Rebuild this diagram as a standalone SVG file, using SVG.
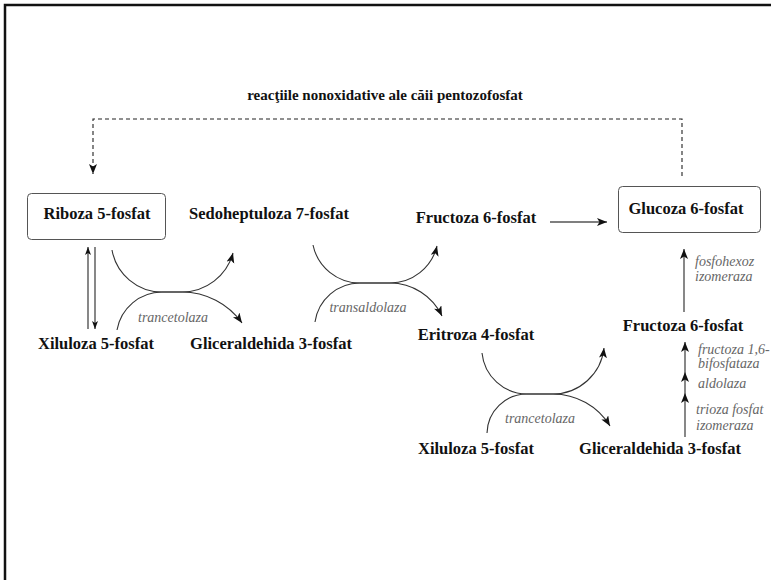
<svg xmlns="http://www.w3.org/2000/svg" width="771" height="580" viewBox="0 0 771 580">
  <style>
    .bg { fill: #ffffff; }
    .frame { stroke: #111; stroke-width: 2.5; fill: none; }
    .box { fill: #ffffff; stroke: #555; stroke-width: 1; }
    .name { font-family: "Liberation Serif", "Times New Roman", serif; font-weight: bold; font-size: 16.5px; fill: #111; text-anchor: middle; }
    .title { font-family: "Liberation Serif", "Times New Roman", serif; font-weight: bold; font-size: 15px; fill: #111; text-anchor: middle; }
    .enz { font-family: "Liberation Serif", "Times New Roman", serif; font-style: italic; font-size: 14px; fill: #666; }
    .enz-c { text-anchor: middle; }
    .curve { fill: none; stroke: #333; stroke-width: 1.1; }
    .vline { fill: none; stroke: #555; stroke-width: 1.4; }
    .dash { fill: none; stroke: #222; stroke-width: 1.1; stroke-dasharray: 4 3; }
  </style>
  <defs>
    <marker id="head" markerUnits="userSpaceOnUse" markerWidth="12" markerHeight="10" refX="10" refY="4" orient="auto">
      <path d="M0,0 L10,4 L0,8 L2.5,4 z" fill="#111"/>
    </marker>
    <marker id="head-s" markerUnits="userSpaceOnUse" markerWidth="10" markerHeight="8" refX="8" refY="3" orient="auto">
      <path d="M0,0 L8,3 L0,6 L2,3 z" fill="#111"/>
    </marker>
  </defs>

  <rect class="bg" x="0" y="0" width="771" height="580"/>
  <!-- frame: top and left edges only -->
  <path class="frame" d="M5,580 L5,5 L771,5"/>

  <text class="title" x="385" y="100">reacţiile nonoxidative ale căii pentozofosfat</text>

  <g id="connectors">
    <!-- return path from glucose back to ribose -->
    <path class="dash" d="M682,176 L682,119 L93,119 L93,174" marker-end="url(#head)"/>
    <!-- ribose / xylulose equilibrium -->
    <path class="vline" d="M88,329 L88,247" marker-end="url(#head-s)"/>
    <path class="vline" d="M95,247 L95,329" marker-end="url(#head-s)"/>
    <!-- transketolase (first): two tangent arcs -->
    <path class="curve" d="M112,250 A51,51 0 0 0 162,292 L182,292 A53,53 0 0 0 233,253" marker-end="url(#head)"/>
    <path class="curve" d="M117,330 A46,46 0 0 1 162,292 L182,292 A74,74 0 0 1 242,323" marker-end="url(#head)"/>
    <!-- transaldolase -->
    <path class="curve" d="M313,245 A48,48 0 0 0 360,283 L390,283 A48.5,48.5 0 0 0 437,246" marker-end="url(#head)"/>
    <path class="curve" d="M315,322 A45.5,45.5 0 0 1 360,283 L390,283 A57.5,57.5 0 0 1 442,316" marker-end="url(#head)"/>
    <!-- transketolase (second) -->
    <path class="curve" d="M482,353 A45.5,45.5 0 0 0 527,394 L553,394 A51.5,51.5 0 0 0 604,348" marker-end="url(#head)"/>
    <path class="curve" d="M487,433 A40,40 0 0 1 527,394 L553,394 A67,67 0 0 1 610,426" marker-end="url(#head)"/>
    <!-- fructose 6-P to glucose 6-P -->
    <path class="vline" d="M550,222 L607,222" marker-end="url(#head)"/>
    <!-- phosphohexose isomerase -->
    <path class="vline" d="M684,312 L684,249" marker-end="url(#head)"/>
    <!-- triose phosphate isomerase / aldolase / fructose 1,6-bisphosphatase -->
    <path class="vline" d="M685,437 L685,393" marker-end="url(#head)"/>
    <path class="vline" d="M685,393 L685,372" marker-end="url(#head)"/>
    <path class="vline" d="M685,372 L685,342" marker-end="url(#head)"/>
  </g>

  <g id="riboza5p">
    <rect class="box" x="27.5" y="193.5" width="138" height="46" rx="4"/>
    <text class="name" x="97" y="219">Riboza 5-fosfat</text>
  </g>
  <g id="sedoheptuloza7p">
    <text class="name" x="269" y="219">Sedoheptuloza 7-fosfat</text>
  </g>
  <g id="fructoza6p-top">
    <text class="name" x="476" y="223">Fructoza 6-fosfat</text>
  </g>
  <g id="glucoza6p">
    <rect class="box" x="618.5" y="186.5" width="142" height="46" rx="4"/>
    <text class="name" x="686" y="214">Glucoza 6-fosfat</text>
  </g>
  <g id="xiluloza5p-left">
    <text class="name" x="96" y="349">Xiluloza 5-fosfat</text>
  </g>
  <g id="gliceraldehida3p-left">
    <text class="name" x="271" y="349">Gliceraldehida 3-fosfat</text>
  </g>
  <g id="eritroza4p">
    <text class="name" x="476" y="340">Eritroza 4-fosfat</text>
  </g>
  <g id="fructoza6p-right">
    <text class="name" x="683" y="331">Fructoza 6-fosfat</text>
  </g>
  <g id="xiluloza5p-bottom">
    <text class="name" x="476" y="454">Xiluloza 5-fosfat</text>
  </g>
  <g id="gliceraldehida3p-bottom">
    <text class="name" x="660" y="454">Gliceraldehida 3-fosfat</text>
  </g>

  <g id="enzymes">
    <text class="enz enz-c" x="173" y="322">trancetolaza</text>
    <text class="enz enz-c" x="368" y="312">transaldolaza</text>
    <text class="enz enz-c" x="540" y="423">trancetolaza</text>
    <text class="enz" x="695" y="266">fosfohexoz</text>
    <text class="enz" x="695" y="281">izomeraza</text>
    <text class="enz" x="698" y="354">fructoza 1,6-</text>
    <text class="enz" x="698" y="368">bifosfataza</text>
    <text class="enz" x="698" y="388">aldolaza</text>
    <text class="enz" x="696" y="414">trioza fosfat</text>
    <text class="enz" x="696" y="430">izomeraza</text>
  </g>
</svg>
